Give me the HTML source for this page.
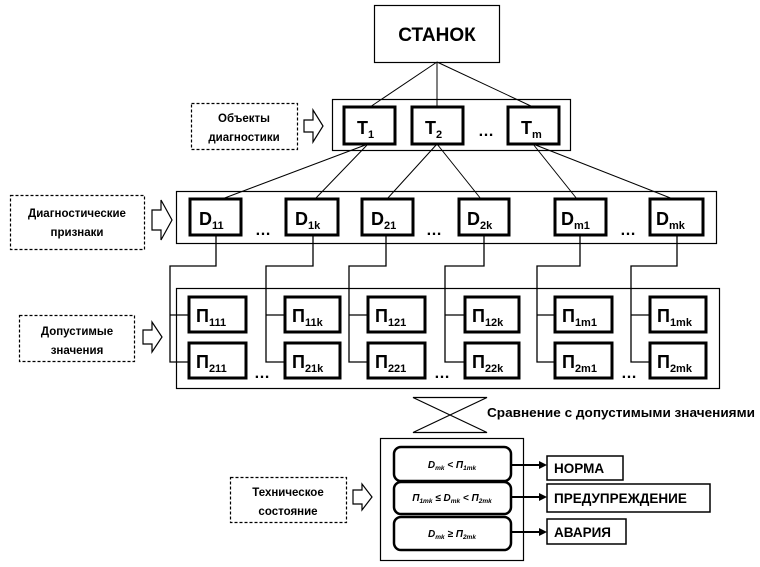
<!DOCTYPE html>
<html><head><meta charset="utf-8"><style>
html,body{margin:0;padding:0;background:#fff;}
svg{display:block;}
text{font-family:"Liberation Sans",sans-serif;font-weight:bold;fill:#000;}
</style></head><body>
<svg width="760" height="567" viewBox="0 0 760 567" xmlns="http://www.w3.org/2000/svg">
<g fill="none" stroke="#000">
<rect x="374.5" y="5.5" width="125" height="57" stroke-width="1.2"/>
<rect x="332.5" y="99.5" width="238" height="51" stroke-width="1.2"/>
<line x1="437" y1="62" x2="370" y2="107" stroke-width="1"/>
<line x1="437" y1="62" x2="437" y2="107" stroke-width="1"/>
<line x1="437" y1="62" x2="533" y2="107" stroke-width="1"/>
<rect x="344" y="107" width="51" height="37" stroke-width="3"/>
<rect x="412" y="107" width="51" height="37" stroke-width="3"/>
<rect x="508" y="107" width="51" height="37" stroke-width="3"/>
<rect x="176.5" y="191.5" width="540" height="52" stroke-width="1.2"/>
<line x1="368" y1="144" x2="222" y2="199" stroke-width="1"/>
<line x1="368" y1="144" x2="315" y2="199" stroke-width="1"/>
<line x1="437" y1="144" x2="387" y2="199" stroke-width="1"/>
<line x1="437" y1="144" x2="481" y2="199" stroke-width="1"/>
<line x1="533" y1="144" x2="577" y2="199" stroke-width="1"/>
<line x1="533" y1="144" x2="673" y2="199" stroke-width="1"/>
<rect x="190" y="199" width="51" height="36" stroke-width="3"/>
<rect x="286" y="199" width="52" height="36" stroke-width="3"/>
<rect x="362" y="199" width="51" height="36" stroke-width="3"/>
<rect x="459" y="199" width="50" height="36" stroke-width="3"/>
<rect x="555" y="199" width="51" height="36" stroke-width="3"/>
<rect x="650" y="199" width="53" height="36" stroke-width="3"/>
<rect x="176.5" y="288.5" width="543" height="100" stroke-width="1.2"/>
<g stroke-width="1.3">
<polyline points="216,235 216,266 170,266 170,362 189,362"/><line x1="170" y1="315" x2="189" y2="315"/>
<polyline points="313,235 313,266 266,266 266,362 285,362"/><line x1="266" y1="315" x2="285" y2="315"/>
<polyline points="386,235 386,266 349,266 349,362 368,362"/><line x1="349" y1="315" x2="368" y2="315"/>
<polyline points="484,235 484,266 445,266 445,362 465,362"/><line x1="445" y1="315" x2="465" y2="315"/>
<polyline points="580,235 580,266 537,266 537,362 555,362"/><line x1="537" y1="315" x2="555" y2="315"/>
<polyline points="677,235 677,266 631,266 631,362 650,362"/><line x1="631" y1="315" x2="650" y2="315"/>
</g>
<g stroke-width="3">
<rect x="189" y="297" width="57" height="35"/><rect x="189" y="343" width="57" height="35"/>
<rect x="285" y="297" width="55" height="35"/><rect x="285" y="343" width="55" height="35"/>
<rect x="368" y="297" width="57" height="35"/><rect x="368" y="343" width="57" height="35"/>
<rect x="465" y="297" width="54" height="35"/><rect x="465" y="343" width="54" height="35"/>
<rect x="555" y="297" width="57" height="35"/><rect x="555" y="343" width="57" height="35"/>
<rect x="650" y="297" width="56" height="35"/><rect x="650" y="343" width="56" height="35"/>
</g>
<g stroke-width="1.2" stroke-dasharray="3,2">
<rect x="191.5" y="103.5" width="106" height="46"/>
<rect x="10.5" y="195.5" width="134" height="54"/>
<rect x="19.5" y="315.5" width="115" height="46"/>
<rect x="230.5" y="477.5" width="116" height="45"/>
</g>
<g stroke-width="1.2">
<path d="M304,120 H313 V110 L323,126 L313,142 V132 H304 Z"/>
<path d="M152,210 H161 V200 L172,220 L161,240 V230 H152 Z"/>
<path d="M143,330 H152 V322 L162,337 L152,352 V344 H143 Z"/>
<path d="M353,490 H362 V484 L372,497 L362,510 V504 H353 Z"/>
</g>
<path d="M413,397.5 H487 L413,432.5 H487 Z" stroke-width="1.2"/>
<rect x="380.5" y="438.5" width="143" height="122" stroke-width="1.2"/>
<g stroke-width="2.5">
<rect x="394" y="447" width="117" height="34" rx="7"/>
<rect x="394" y="482" width="117" height="32" rx="7"/>
<rect x="394" y="517" width="117" height="33" rx="7"/>
</g>
<g stroke-width="2">
<line x1="511" y1="465" x2="541" y2="465"/>
<line x1="511" y1="497" x2="541" y2="497"/>
<line x1="511" y1="532" x2="541" y2="532"/>
</g>
<g stroke-width="1.5">
<rect x="547" y="456" width="76" height="24"/>
<rect x="547" y="484" width="163" height="28"/>
<rect x="547" y="519" width="79" height="25"/>
</g>
</g>
<g fill="#000">
<path d="M547,465 L539,461 L539,469 Z"/>
<path d="M547,497 L539,493 L539,501 Z"/>
<path d="M547,532 L539,528 L539,536 Z"/>
</g>
<text x="437" y="41" font-size="19" text-anchor="middle">СТАНОК</text>
<g font-size="18">
<text x="357" y="134">T<tspan font-size="11" dy="4">1</tspan></text>
<text x="425" y="134">T<tspan font-size="11" dy="4">2</tspan></text>
<text x="478" y="136" font-size="16">…</text>
<text x="521" y="134">T<tspan font-size="11" dy="4">m</tspan></text>
<text x="199" y="225">D<tspan font-size="11" dy="4">11</tspan></text>
<text x="295" y="225">D<tspan font-size="11" dy="4">1k</tspan></text>
<text x="371" y="225">D<tspan font-size="11" dy="4">21</tspan></text>
<text x="467" y="225">D<tspan font-size="11" dy="4">2k</tspan></text>
<text x="561" y="225">D<tspan font-size="11" dy="4">m1</tspan></text>
<text x="656" y="225">D<tspan font-size="11" dy="4">mk</tspan></text>
<text x="255" y="235" font-size="16">…</text>
<text x="426" y="235" font-size="16">…</text>
<text x="620" y="235" font-size="16">…</text>
<text x="196" y="322">П<tspan font-size="11" dy="4">111</tspan></text>
<text x="292" y="322">П<tspan font-size="11" dy="4">11k</tspan></text>
<text x="375" y="322">П<tspan font-size="11" dy="4">121</tspan></text>
<text x="472" y="322">П<tspan font-size="11" dy="4">12k</tspan></text>
<text x="562" y="322">П<tspan font-size="11" dy="4">1m1</tspan></text>
<text x="657" y="322">П<tspan font-size="11" dy="4">1mk</tspan></text>
<text x="196" y="368">П<tspan font-size="11" dy="4">211</tspan></text>
<text x="292" y="368">П<tspan font-size="11" dy="4">21k</tspan></text>
<text x="375" y="368">П<tspan font-size="11" dy="4">221</tspan></text>
<text x="472" y="368">П<tspan font-size="11" dy="4">22k</tspan></text>
<text x="562" y="368">П<tspan font-size="11" dy="4">2m1</tspan></text>
<text x="657" y="368">П<tspan font-size="11" dy="4">2mk</tspan></text>
<text x="254" y="378" font-size="16">…</text>
<text x="434" y="378" font-size="16">…</text>
<text x="621" y="378" font-size="16">…</text>
</g>
<g font-size="11.5" text-anchor="middle">
<text x="244" y="122">Объекты</text>
<text x="244" y="141">диагностики</text>
<text x="77" y="217">Диагностические</text>
<text x="77" y="236">признаки</text>
<text x="77" y="335">Допустимые</text>
<text x="77" y="354">значения</text>
<text x="288" y="496">Техническое</text>
<text x="288" y="515">состояние</text>
</g>
<text x="487" y="417" font-size="12.5" textLength="268" lengthAdjust="spacingAndGlyphs">Сравнение с допустимыми значениями</text>
<g font-size="10" font-style="italic" text-anchor="middle" font-weight="normal">
<text x="452" y="468">D<tspan font-size="6.5" dy="2">mk</tspan><tspan dy="-2"> &lt; П</tspan><tspan font-size="6.5" dy="2">1mk</tspan></text>
<text x="452" y="501">П<tspan font-size="6.5" dy="2">1mk</tspan><tspan dy="-2"> ≤ D</tspan><tspan font-size="6.5" dy="2">mk</tspan><tspan dy="-2"> &lt; П</tspan><tspan font-size="6.5" dy="2">2mk</tspan></text>
<text x="452" y="537">D<tspan font-size="6.5" dy="2">mk</tspan><tspan dy="-2"> ≥ П</tspan><tspan font-size="6.5" dy="2">2mk</tspan></text>
</g>
<g font-size="13.5">
<text x="554" y="473">НОРМА</text>
<text x="554" y="503">ПРЕДУПРЕЖДЕНИЕ</text>
<text x="554" y="537">АВАРИЯ</text>
</g>
</svg>
</body></html>
